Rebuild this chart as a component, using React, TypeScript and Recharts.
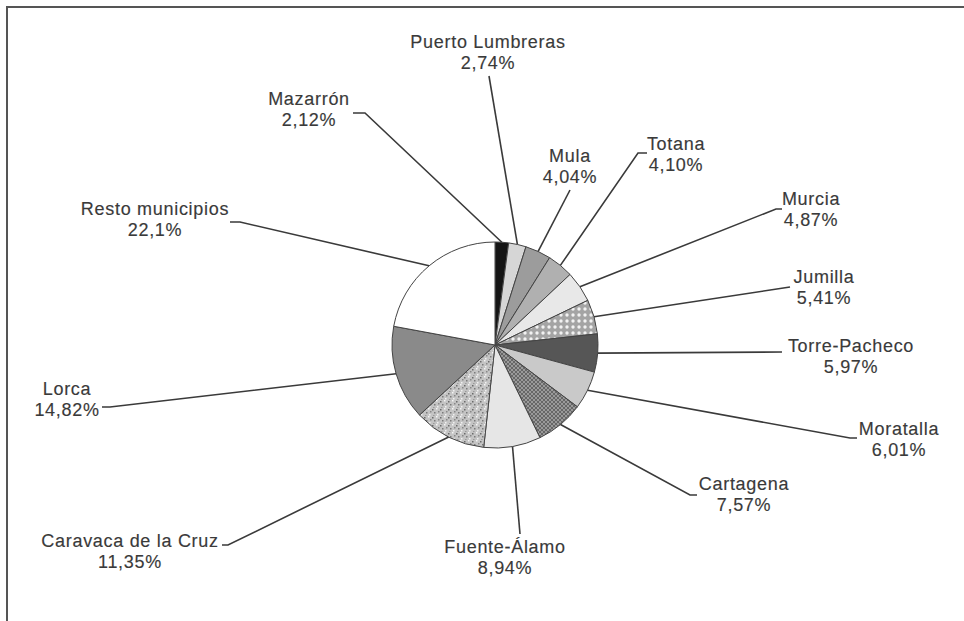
import { PieChart, Pie, Cell } from "recharts";

const municipios = [
  "Mazarrón",
  "Puerto Lumbreras",
  "Mula",
  "Totana",
  "Murcia",
  "Jumilla",
  "Torre-Pacheco",
  "Moratalla",
  "Cartagena",
  "Fuente-Álamo",
  "Caravaca de la Cruz",
  "Lorca",
  "Resto municipios",
];

const porcentajes = [2.12, 2.74, 4.04, 4.1, 4.87, 5.41, 5.97, 6.01, 7.57, 8.94, 11.35, 14.82, 22.1];

const etiquetas = [
  "2,12%",
  "2,74%",
  "4,04%",
  "4,10%",
  "4,87%",
  "5,41%",
  "5,97%",
  "6,01%",
  "7,57%",
  "8,94%",
  "11,35%",
  "14,82%",
  "22,1%",
];

const data = municipios.map((name, i) => ({ name, value: porcentajes[i], text: etiquetas[i] }));

// slice fills (plain greys plus a few hatch patterns)
const fills = [
  "#151515",
  "#d6d6d6",
  "#9c9c9c",
  "#b0b0b0",
  "#e8e8e8",
  "url(#dots)",
  "#565656",
  "#c9c9c9",
  "url(#cross)",
  "#e6e6e6",
  "url(#speckle)",
  "#8a8a8a",
  "#ffffff",
];

// label layout, relative to the pie centre: leader end, elbow, text centre / first baseline
const labelLayout = [
  { ex: -130, ey: -232, elbow: -12, tx: -186, ty: -240 },
  { ex: -6, ey: -269, elbow: 0, tx: -7, ty: -297 },
  { ex: 75, ey: -155, elbow: 0, tx: 75, ty: -183 },
  { ex: 143, ey: -192, elbow: 9, tx: 181, ty: -195 },
  { ex: 281, ey: -136, elbow: 6, tx: 316, ty: -140 },
  { ex: 295, ey: -58, elbow: 0, tx: 329, ty: -62 },
  { ex: 287, ey: 7, elbow: 0, tx: 356, ty: 7 },
  { ex: 355, ey: 93, elbow: 7, tx: 404, ty: 90 },
  { ex: 195, ey: 150, elbow: 7, tx: 249, ty: 145 },
  { ex: 25, ey: 189, elbow: 0, tx: 10, ty: 208 },
  { ex: -267, ey: 200, elbow: -6, tx: -365, ty: 202 },
  { ex: -385, ey: 62, elbow: -8, tx: -428, ty: 50 },
  { ex: -255, ey: -123, elbow: -10, tx: -340, ty: -130 },
];

const RAD = Math.PI / 180;

function renderLabel(props: any) {
  const cx = Number(props.cx);
  const cy = Number(props.cy);
  const r = Number(props.outerRadius);
  const a = Number(props.midAngle);
  const i = props.index;
  const l = labelLayout[i];
  const sx = cx + Math.cos(-a * RAD) * r;
  const sy = cy + Math.sin(-a * RAD) * r;
  const ex = cx + l.ex;
  const ey = cy + l.ey;
  const pts = `${sx},${sy} ${ex},${ey} ${ex + l.elbow},${ey}`;
  return (
    <g key={`lbl-${i}`}>
      <polyline points={pts} fill="none" stroke="#3a3a3a" strokeWidth={1.6} />
      <text
        x={cx + l.tx}
        y={cy + l.ty}
        textAnchor="middle"
        fill="#3a3a3a"
        fontSize={18}
        letterSpacing={0.7}
        stroke="#3a3a3a"
        strokeWidth={0.15}
        fontFamily="Liberation Sans, Arial, sans-serif"
      >
        <tspan x={cx + l.tx} dy={0}>{data[i].name}</tspan>
        <tspan x={cx + l.tx} dy={21}>{data[i].text}</tspan>
      </text>
    </g>
  );
}

export default function App() {
  return (
    <div style={{ position: "absolute", left: 0, top: 0, width: 964, height: 621, background: "#fff" }}>
      <svg width={0} height={0} style={{ position: "absolute" }}>
        <defs>
          <pattern id="dots" width={6} height={6} patternUnits="userSpaceOnUse">
            <rect width={6} height={6} fill="#a4a4a4" />
            <circle cx={3} cy={3} r={1.7} fill="#f2f2f2" />
          </pattern>
          <pattern id="cross" width={4} height={4} patternUnits="userSpaceOnUse">
            <rect width={4} height={4} fill="#9a9a9a" />
            <path d="M0,0 L4,4 M4,0 L0,4" stroke="#5a5a5a" strokeWidth={0.8} />
          </pattern>
          <pattern id="speckle" width={8} height={8} patternUnits="userSpaceOnUse">
            <rect width={8} height={8} fill="#c4c4c4" />
            <rect x={0} y={1} width={1.5} height={1.5} fill="#6a6a6a" />
            <rect x={4} y={0} width={1.5} height={1.5} fill="#f5f5f5" />
            <rect x={2} y={4} width={1.5} height={1.5} fill="#7a7a7a" />
            <rect x={6} y={3} width={1.5} height={1.5} fill="#888" />
            <rect x={5} y={6} width={1.5} height={1.5} fill="#f0f0f0" />
            <rect x={1} y={7} width={1.5} height={1.5} fill="#999" />
          </pattern>
        </defs>
      </svg>
      <div
        style={{
          position: "absolute",
          left: 6,
          top: 6,
          width: 958,
          height: 615,
          borderTop: "2px solid #555",
          borderLeft: "2px solid #555",
          boxSizing: "border-box",
        }}
      />
      <div style={{ position: "absolute", left: 0, top: 0 }}>
        <PieChart width={964} height={621} margin={{ top: 0, right: 0, bottom: 0, left: 0 }}>
          <Pie
            data={data}
            dataKey="value"
            nameKey="name"
            cx={495}
            cy={345}
            outerRadius={103}
            startAngle={90}
            endAngle={-270}
            stroke="#444"
            strokeWidth={1}
            label={renderLabel}
            labelLine={false}
            isAnimationActive={false}
          >
            {data.map((d, i) => (
              <Cell key={d.name} fill={fills[i]} />
            ))}
          </Pie>
        </PieChart>
      </div>
    </div>
  );
}
